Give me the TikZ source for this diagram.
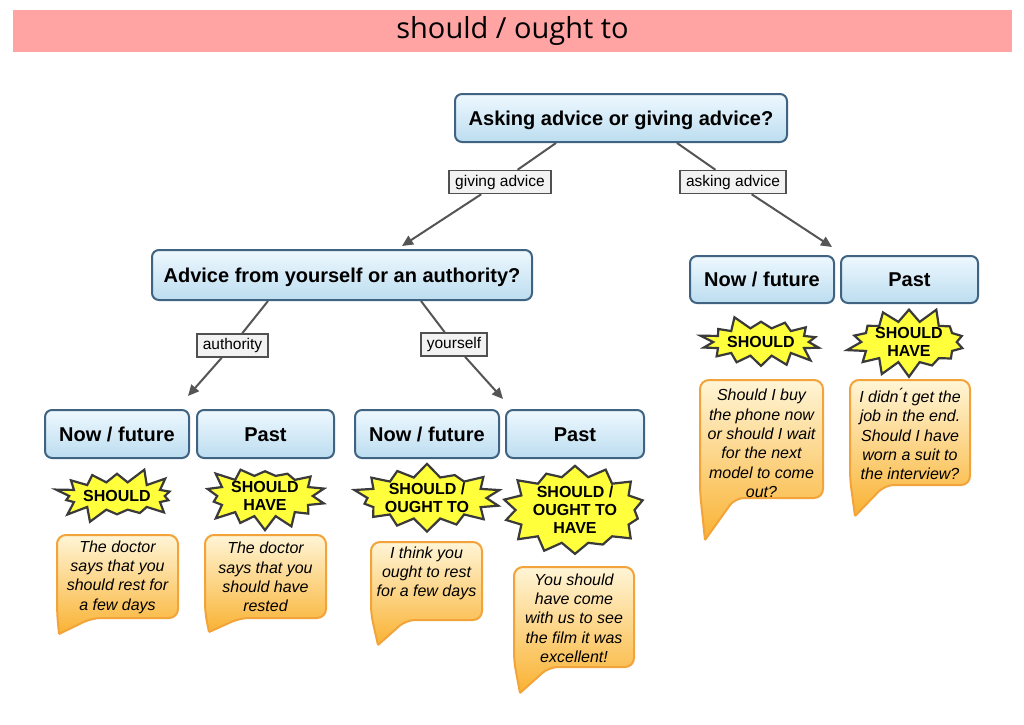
\documentclass[tikz,border=0pt]{standalone}
\usepackage{fontspec}
\setmainfont{Liberation Sans}
\newfontfamily\titlefont{Open Sans}
\usetikzlibrary{shapes.symbols,arrows.meta,calc}
\definecolor{titlepink}{HTML}{FFA3A3}
\definecolor{boxborder}{HTML}{3F6381}
\definecolor{boxtop}{HTML}{EEF8FE}
\definecolor{boxbot}{HTML}{BCDDF0}
\definecolor{lblborder}{HTML}{505050}
\definecolor{lblfill}{HTML}{F2F2F2}
\definecolor{connc}{HTML}{555555}
\definecolor{starfill}{HTML}{FFFF3C}
\definecolor{starborder}{HTML}{3A3A3A}
\definecolor{bubtop}{HTML}{FFF5D6}
\definecolor{bubbot}{HTML}{F9B233}
\definecolor{bubborder}{HTML}{F2A43A}
\tikzset{
  qbox/.style={draw=boxborder, line width=2pt, rounded corners=7pt, top color=boxtop, bottom color=boxbot,
    font=\bfseries\fontsize{20}{24}\selectfont, inner sep=0pt, text height=18pt, text depth=3.6pt},
  lbl/.style={draw=lblborder, fill=lblfill, line width=1.5pt, font=\fontsize{15.5}{18}\selectfont,
    inner ysep=0pt, inner xsep=6pt, minimum height=23pt},
  conn/.style={draw=connc, line width=2pt, -{Triangle[length=11pt,width=10pt]}},
  burst/.style={starburst, draw=starborder, fill=starfill, line width=2.2pt, starburst points=14,
    starburst point height=16pt, inner sep=0pt, align=center,
    font=\bfseries\fontsize{16}{18}\selectfont},
  bubframe/.style={draw=bubborder, line width=2pt, rounded corners=9pt, top color=bubtop, bottom color=bubbot},
  bubtext/.style={align=center, inner sep=0pt, font=\itshape\fontsize{16}{19.3}\selectfont}
}
\newcommand{\bubbleframe}[6]{%
  \path[bubframe] (#5,#6) -- (#1,#4-6) -- (#1,#2) -- (#3,#2) -- (#3,#4) -- (#1+35,#4) -- (#5,#6);
}
\begin{document}
\begin{tikzpicture}[x=1pt,y=-1pt]
\useasboundingbox[fill=white] (0,0) rectangle (1024,724);

\node[fill=titlepink, minimum width=999pt, minimum height=42pt, inner sep=0pt] (title) at (512.5,31)
  {\titlefont\fontsize{29}{32}\selectfont should / ought to};

% question boxes
\node[qbox, minimum width=332pt, minimum height=48pt] (top) at (621,118) {Asking advice or giving advice?};
\node[qbox, minimum width=380pt, minimum height=50pt] (adv) at (342,275) {Advice from yourself or an authority?};
\node[qbox, minimum width=144pt, minimum height=47pt] (nfR) at (762,279.5) {Now / future};
\node[qbox, minimum width=137pt, minimum height=47pt] (pR) at (909.5,279.5) {Past};
\node[qbox, minimum width=144pt, minimum height=48pt] (nfA) at (117,434) {Now / future};
\node[qbox, minimum width=137pt, minimum height=48pt] (pA) at (265.5,434) {Past};
\node[qbox, minimum width=144pt, minimum height=48pt] (nfY) at (427,434) {Now / future};
\node[qbox, minimum width=138pt, minimum height=48pt] (pY) at (575,434) {Past};

% edge labels
\node[lbl] (lgive) at (500,182) {giving advice};
\node[lbl] (lask) at (733,182) {asking advice};
\node[lbl] (lauth) at (232.5,345.5) {authority};
\node[lbl] (lself) at (454,344.5) {yourself};

% connectors
\draw[conn] ([xshift=-65pt]top.south) -- (lgive) -- ($(adv.north)+(60,-3)$);
\draw[conn] ([xshift=56pt]top.south) -- (lask) -- ($(nfR.north)+(70,-8)$);
\draw[conn] ([xshift=-74pt]adv.south) -- (lauth) -- ($(nfA.north)+(71,-13)$);
\draw[conn] ([xshift=79pt]adv.south) -- (lself) -- ($(nfY.north)+(76,-10)$);

% starbursts
\node[burst, random starburst=12, minimum width=115pt, minimum height=60pt] (s1) at (117,496) {SHOULD};
\node[burst, random starburst=23, minimum width=115pt, minimum height=60pt] (s2) at (265,496) {SHOULD\\HAVE};
\node[burst, random starburst=37, minimum width=132pt, minimum height=66pt] (s3) at (427,498) {SHOULD /\\OUGHT TO};
\node[burst, random starburst=41, minimum width=126pt, minimum height=88pt] (s4) at (575,510) {SHOULD /\\OUGHT TO\\HAVE};
\node[burst, random starburst=29, minimum width=115pt, minimum height=60pt] (s5) at (761,342) {SHOULD};
\node[burst, random starburst=67, minimum width=117pt, minimum height=60pt] (s6) at (909,342) {SHOULD\\HAVE};

% speech bubbles
\bubbleframe{57}{535}{178}{618}{59}{634}
\node[bubtext] (b1) at (117.5,577) {The doctor\\says that you\\should rest for\\a few days};
\bubbleframe{205}{535}{326}{618}{209}{632}
\node[bubtext] (b2) at (265.5,577) {The doctor\\says that you\\should have\\rested};
\bubbleframe{371}{542}{482}{620}{378}{645}
\node[bubtext] (b3) at (426.5,573.5) {I think you\\ought to rest\\for a few days};
\bubbleframe{514}{567}{634}{667}{520}{693}
\node[bubtext] (b4) at (574,618) {You should\\have come\\with us to see\\the film it was\\excellent!};
\bubbleframe{700}{380}{823}{498}{705}{540}
\node[bubtext] (b5) at (761.5,443.5) {Should I buy\\the phone now\\or should I wait\\for the next\\model to come\\out?};
\bubbleframe{850}{380}{970}{485}{855}{516}
\node[bubtext] (b6) at (910,434) {I didn\'{}t get the\\job in the end.\\Should I have\\worn a suit to\\the interview?};
\end{tikzpicture}
\end{document}
